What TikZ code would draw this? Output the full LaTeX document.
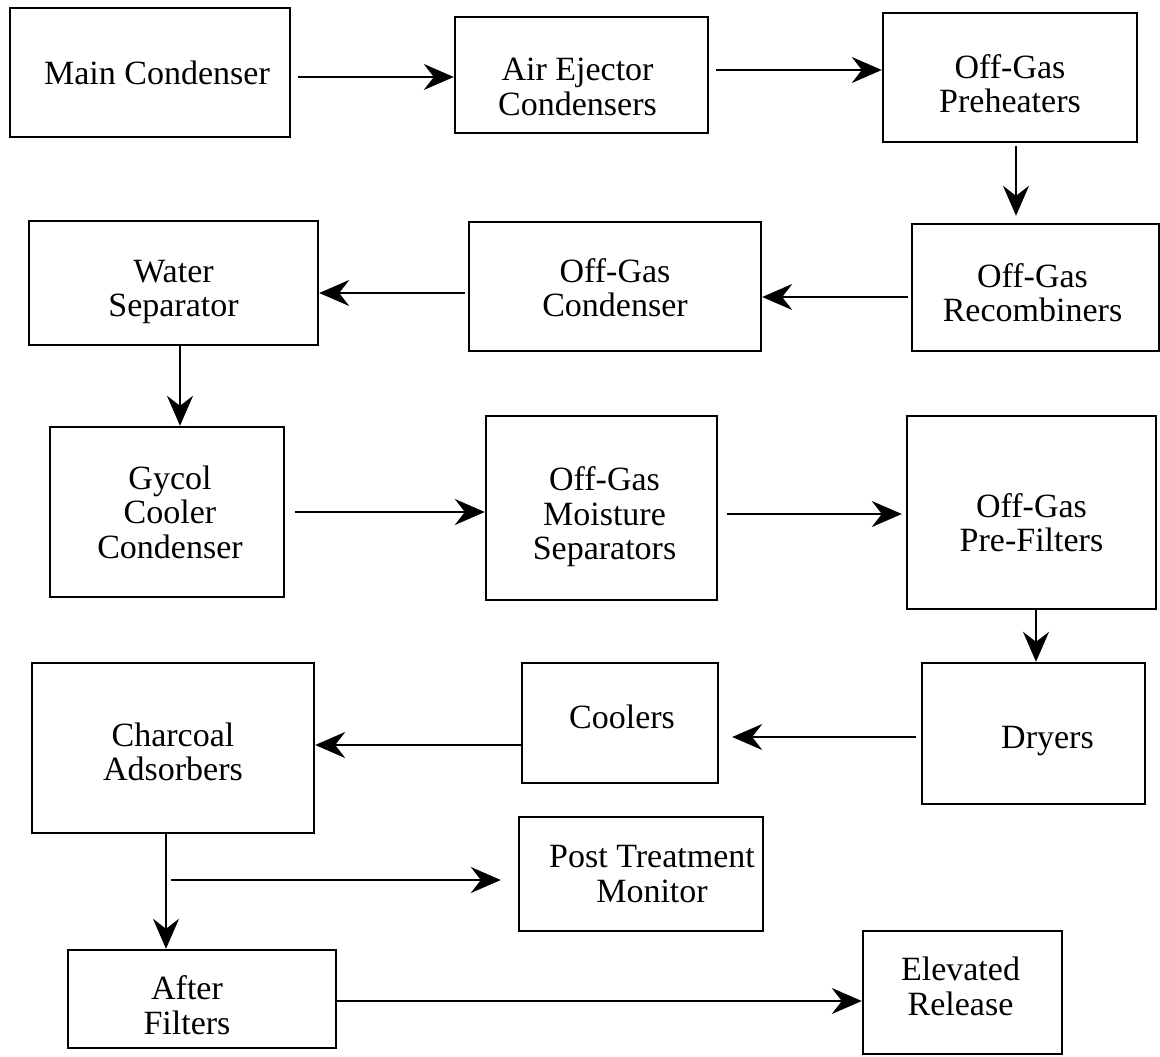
\documentclass[tikz,border=0pt]{standalone}
\usepackage{fontspec}
\setmainfont{Liberation Serif}
\usetikzlibrary{arrows.meta}
\begin{document}
\begin{tikzpicture}[x=1pt,y=-1pt,
  box/.style={draw, line width=2.4pt, inner sep=0pt},
  txt/.style={align=center, inner sep=0pt, font=\fontsize{34}{34.5}\selectfont},
  flow/.style={line width=2pt, -{Stealth[length=30pt,width=26pt,inset=10pt]}}]
\useasboundingbox (0,0) rectangle (1160,1057);

\node[box, minimum width=280pt, minimum height=129pt,
  label={[txt,xshift=7pt]center:Main Condenser}] (mc) at (150,72.5) {};
\node[box, minimum width=253pt, minimum height=116pt,
  label={[txt,xshift=-4pt,yshift=-12pt]center:{Air Ejector\\Condensers}}] (ae) at (581.5,75) {};
\node[box, minimum width=254pt, minimum height=129pt,
  label={[txt,yshift=-6pt]center:{Off-Gas\\Preheaters}}] (ph) at (1010,77.5) {};
\node[box, minimum width=247pt, minimum height=127pt,
  label={[txt,xshift=-3pt,yshift=-5pt]center:{Off-Gas\\Recombiners}}] (rc) at (1035.5,287.5) {};
\node[box, minimum width=292pt, minimum height=129pt,
  label={[txt,yshift=-1pt]center:{Off-Gas\\Condenser}}] (oc) at (615,286.5) {};
\node[box, minimum width=289pt, minimum height=124pt,
  label={[txt,yshift=-9pt]center:{Water\\Separator}}] (ws) at (173.5,283) {};
\node[box, minimum width=234pt, minimum height=170pt,
  label={[txt,xshift=3pt]center:{Gycol\\Cooler\\Condenser}}] (gc) at (167,512) {};
\node[box, minimum width=231pt, minimum height=184pt,
  label={[txt,xshift=3pt,yshift=-9pt]center:{Off-Gas\\Moisture\\Separators}}] (ms) at (601.5,508) {};
\node[box, minimum width=249pt, minimum height=193pt,
  label={[txt,yshift=-10pt]center:{Off-Gas\\Pre-Filters}}] (pf) at (1031.5,512.5) {};
\node[box, minimum width=223pt, minimum height=141pt,
  label={[txt,xshift=14pt,yshift=-8pt]center:Dryers}] (dr) at (1033.5,733.5) {};
\node[box, minimum width=196pt, minimum height=120pt,
  label={[txt,xshift=2pt,yshift=6pt]center:Coolers}] (co) at (620,723) {};
\node[box, minimum width=282pt, minimum height=170pt,
  label={[txt,yshift=-4pt]center:{Charcoal\\Adsorbers}}] (ca) at (173,748) {};
\node[box, minimum width=244pt, minimum height=114pt,
  label={[txt,xshift=11pt]center:{Post Treatment\\Monitor}}] (pt) at (641,874) {};
\node[box, minimum width=268pt, minimum height=98pt,
  label={[txt,xshift=-15pt,yshift=-6pt]center:{After\\Filters}}] (af) at (202,999) {};
\node[box, minimum width=199pt, minimum height=123pt,
  label={[txt,xshift=-2pt,yshift=6pt]center:{Elevated\\Release}}] (er) at (962.5,992.5) {};

\draw[flow, shorten <=7pt] (mc.east|-0,77) -- (ae.west|-0,77);
\draw[flow, shorten <=7pt] (ae.east|-0,70) -- (ph.west|-0,70);
\draw[flow, shorten <=3pt, shorten >=7pt] (ph.south-|1016,0) -- (rc.north-|1016,0);
\draw[flow, shorten <=3pt] (rc.west|-0,297) -- (oc.east|-0,297);
\draw[flow, shorten <=3pt] (oc.west|-0,293) -- (ws.east|-0,293);
\draw[flow] (ws.south-|180,0) -- (gc.north-|180,0);
\draw[flow, shorten <=10pt] (gc.east|-0,512) -- (ms.west|-0,512);
\draw[flow, shorten <=9pt, shorten >=4pt] (ms.east|-0,514) -- (pf.west|-0,514);
\draw[flow] (pf.south-|1036,0) -- (dr.north-|1036,0);
\draw[flow, shorten <=5pt, shorten >=13pt] (dr.west|-0,737) -- (co.east|-0,737);
\draw[flow] (co.west|-0,745) -- (ca.east|-0,745);
\draw[flow] (ca.south-|166,0) -- (af.north-|166,0);
\coordinate (br) at (171,880);
\draw[flow, shorten >=17pt] (br) -- (pt.west|-br);
\draw[flow] (af.east|-0,1001) -- (er.west|-0,1001);
\end{tikzpicture}
\end{document}
